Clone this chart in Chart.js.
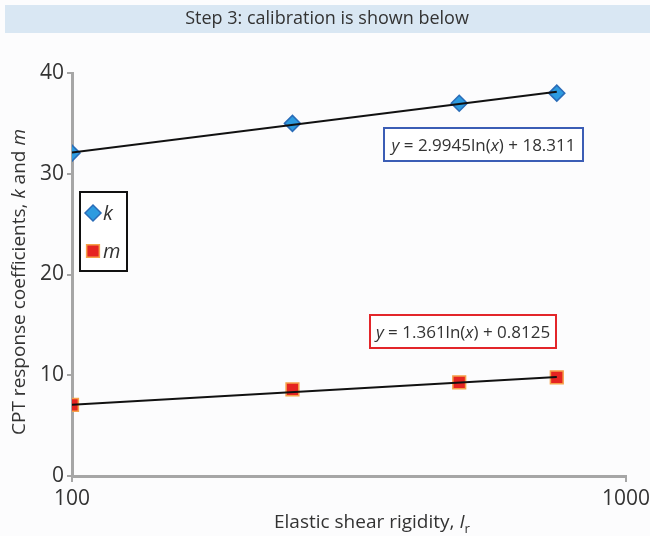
<!DOCTYPE html>
<html>
<head>
<meta charset="utf-8">
<script src="https://cdn.jsdelivr.net/npm/chart.js@4"></script>
<style>
  html, body { margin: 0; padding: 0; background: #fcfcfd; }
  #wrap { width: 650px; height: 536px; }
</style>
</head>
<body>
<div id="wrap"><canvas id="calib" width="650" height="536"></canvas></div>
<script>
const FONT = '"Open Sans", "Noto Sans", sans-serif';

// rigidity index values and fitted coefficients
const rigidity = [100, 250, 500, 750];
const kValues = [32.05, 35.0, 37.0, 38.0];
const mValues = [7.05, 8.6, 9.3, 9.8];
// log fits y = a ln(x) + b
const kFit = [2.9945, 18.311];
const mFit = [1.361, 0.8125];
const xTicks = [100, 1000];
const yTicks = [0, 10, 20, 30, 40];

const TITLE = 'Step 3: calibration is shown below';

function fitLine(coef) {
  const ends = [rigidity[0], rigidity[rigidity.length - 1]];
  return ends.map(x => ({x: x, y: coef[0] * Math.log(x) + coef[1]}));
}

function pts(vals) {
  return rigidity.map((x, i) => ({x: x, y: vals[i]}));
}

// draw a run of text pieces with their own style (italic / subscript)
function drawRich(ctx, parts, x, y, size, align) {
  const fontFor = p => (p.italic ? 'italic ' : '') + (p.sub ? size * 0.7 : size) + 'px ' + FONT;
  let total = 0;
  parts.forEach(p => { ctx.font = fontFor(p); total += ctx.measureText(p.t).width; });
  let cx = align === 'center' ? x - total / 2 : x;
  ctx.textAlign = 'left';
  ctx.textBaseline = 'alphabetic';
  parts.forEach(p => {
    ctx.font = fontFor(p);
    ctx.fillText(p.t, cx, p.sub ? y + size * 0.25 : y);
    cx += ctx.measureText(p.t).width;
  });
}

const decorations = {
  id: 'decorations',
  beforeDraw(chart) {
    const ctx = chart.ctx;
    ctx.save();
    ctx.fillStyle = '#fcfcfd';
    ctx.fillRect(0, 0, chart.width, chart.height);
    ctx.fillStyle = '#d9e7f3';
    ctx.fillRect(5, 5, chart.width - 5, 28);
    ctx.fillStyle = '#333';
    ctx.font = '18px ' + FONT;
    ctx.textAlign = 'center';
    ctx.textBaseline = 'middle';
    ctx.fillText(TITLE, 327, 19);
    ctx.restore();
  },
  afterDraw(chart) {
    const ctx = chart.ctx;
    ctx.save();
    ctx.fillStyle = '#333';

    // axis titles
    drawRich(ctx, [{t: 'Elastic shear rigidity, '}, {t: 'I', italic: true}, {t: 'r', sub: true}], 372, 528, 19, 'center');
    ctx.translate(25, 282);
    ctx.rotate(-Math.PI / 2);
    drawRich(ctx, [{t: 'CPT response coefficients, '}, {t: 'k', italic: true}, {t: ' and '}, {t: 'm', italic: true}], 0, 0, 19, 'center');
    ctx.setTransform(1, 0, 0, 1, 0, 0);

    // fit equation boxes
    const boxes = [
      {x: 384, y: 128, w: 199, h: 33, color: '#3b5db5', coef: kFit},
      {x: 370, y: 315, w: 186, h: 33, color: '#e3262a', coef: mFit}
    ];
    boxes.forEach(b => {
      ctx.fillStyle = '#ffffff';
      ctx.fillRect(b.x, b.y, b.w, b.h);
      ctx.strokeStyle = b.color;
      ctx.lineWidth = 2;
      ctx.strokeRect(b.x, b.y, b.w, b.h);
      ctx.fillStyle = '#333';
      drawRich(ctx, [
        {t: 'y', italic: true}, {t: ' = ' + b.coef[0] + 'ln('}, {t: 'x', italic: true},
        {t: ') + ' + b.coef[1]}
      ], b.x + b.w / 2, b.y + 23, 17, 'center');
    });

    // legend
    ctx.fillStyle = '#ffffff';
    ctx.fillRect(80, 192, 47, 79);
    ctx.strokeStyle = '#111';
    ctx.lineWidth = 2;
    ctx.strokeRect(80, 192, 47, 79);
    const items = [
      {ds: chart.data.datasets[2], y: 213, label: 'k'},
      {ds: chart.data.datasets[3], y: 251, label: 'm'}
    ];
    items.forEach(it => {
      ctx.fillStyle = it.ds.backgroundColor;
      ctx.strokeStyle = it.ds.borderColor;
      ctx.lineWidth = it.ds.pointBorderWidth;
      Chart.helpers.drawPoint(ctx, {pointStyle: it.ds.pointStyle, radius: it.ds.pointRadius, borderWidth: it.ds.pointBorderWidth, rotation: 0}, 93, it.y);
      ctx.fillStyle = '#333';
      drawRich(ctx, [{t: it.label, italic: true}], 103, it.y + 7, 20, 'left');
    });
    ctx.restore();
  }
};

new Chart(document.getElementById('calib'), {
  type: 'scatter',
  data: {
    datasets: [
      {label: 'k fit', type: 'line', data: fitLine(kFit), borderColor: '#111', borderWidth: 2, pointRadius: 0, order: 0},
      {label: 'm fit', type: 'line', data: fitLine(mFit), borderColor: '#111', borderWidth: 2, pointRadius: 0, order: 0},
      {label: 'k', data: pts(kValues), pointStyle: 'rectRot', pointRadius: 8, pointBorderWidth: 1.5,
        backgroundColor: '#2d9be0', borderColor: '#2a6cb8', order: 1},
      {label: 'm', data: pts(mValues), pointStyle: 'rect', pointRadius: 9, pointBorderWidth: 1.5,
        backgroundColor: '#e52421', borderColor: '#f5a14a', order: 1}
    ]
  },
  options: {
    responsive: false,
    animation: false,
    layout: {padding: {left: 0, top: 73, right: 24, bottom: 0}},
    plugins: {legend: {display: false}, tooltip: {enabled: false}},
    scales: {
      x: {
        type: 'logarithmic',
        min: 100,
        max: 1000,
        afterBuildTicks: axis => { axis.ticks = xTicks.map(v => ({value: v})); },
        afterFit: axis => { axis.height = 60; axis.paddingLeft = 0; axis.paddingRight = 0; },
        border: {color: '#a6a6a6', width: 3},
        grid: {drawOnChartArea: false, color: '#a6a6a6', tickLength: 6, lineWidth: 2},
        ticks: {color: '#333', font: {family: FONT, size: 21}, padding: 4, maxRotation: 0,
          callback: v => String(v)}
      },
      y: {
        min: 0,
        max: 40,
        afterBuildTicks: axis => { axis.ticks = yTicks.map(v => ({value: v})); },
        afterFit: axis => { axis.width = 72; axis.paddingTop = 0; axis.paddingBottom = 0; },
        border: {color: '#a6a6a6', width: 3},
        grid: {drawOnChartArea: false, color: '#a6a6a6', tickLength: 5, lineWidth: 2},
        ticks: {color: '#333', font: {family: FONT, size: 21}, padding: 3}
      }
    }
  },
  plugins: [decorations]
});
</script>
</body>
</html>
